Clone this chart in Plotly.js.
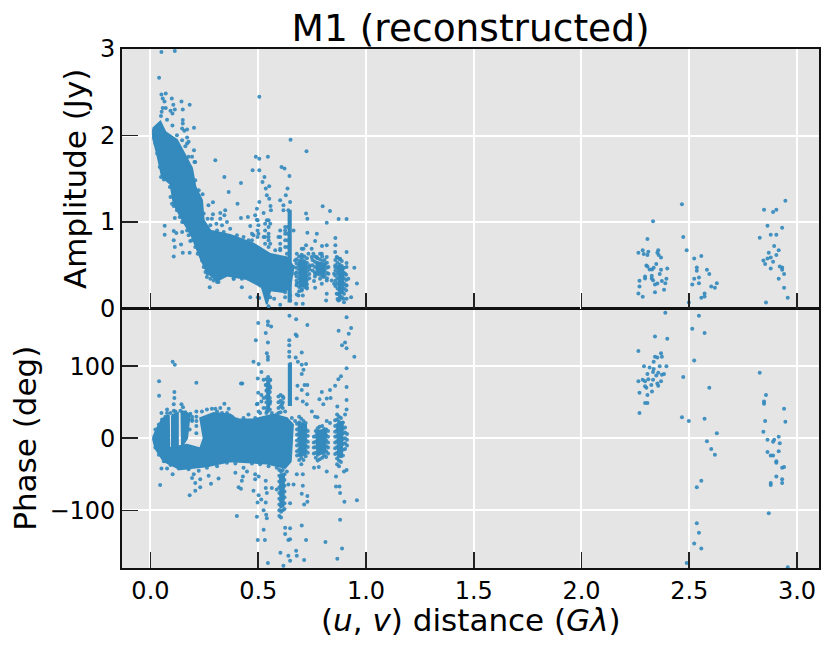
<!DOCTYPE html>
<html>
<head>
<meta charset="utf-8">
<script src="https://cdn.plot.ly/plotly-3.0.1.min.js"></script>
<style>
  html, body { margin: 0; padding: 0; background: #fff; }
  #chart { width: 830px; height: 646px; }
</style>
</head>
<body>
<div id="chart"></div>
<script>
// Solid, fully merged regions of the amplitude panel, outlined from the picture
const ampPatchX = [
  [.012,.046,.069,.093,.123,.162,.193,.208,.239,.247,.278,.370,.478,.556,.633,.664,.648,.617,.556,.540,.517,.448,.355,.309,.262,.231,.193,.154,.108,.093,.054,.031,.012],
  [.641,.651,.651,.641],
  [.690,.722,.726,.694],
  [.770,.810,.806,.774],
  [.870,.895,.892,.876]
];
const ampPatchY = [
  [2.08,2.16,2.04,2.00,1.95,1.77,1.62,1.41,1.25,1.02,.90,.85,.75,.63,.59,.48,.25,.19,.21,.05,.25,.34,.38,.32,.42,.59,.83,1.00,1.21,1.44,1.52,1.79,1.97],
  [1.13,1.13,.08,.08],
  [.55,.53,.27,.25],
  [.54,.51,.40,.42],
  [.50,.47,.19,.16]
];

// Amplitude points of the dense groups past 0.65, read column by column
const ampColumnX = [.678,.690,.702,.714,.726,.737,.752,.763,.774,.786,.797,.808,.819,.858,.868,.878,.888,.898,.908];
const ampColumnY = [
  [.57,.52,.47,.42,.37,.32,.27],
  [.60,.55,.50,.45,.40,.35,.30,.25,.20],
  [.62,.57,.52,.47,.42,.37,.32,.27,.22],
  [.60,.55,.50,.45,.40,.35,.30,.25],
  [.58,.53,.48,.43,.38,.33,.28,.23],
  [.50,.45,.40,.35],
  [.56,.50,.44],
  [.60,.54,.48,.42,.37],
  [.58,.52,.46,.40],
  [.57,.51,.45,.39],
  [.60,.55,.49,.43,.38],
  [.56,.50,.44,.38],
  [.53,.47,.41,.35],
  [.56,.50,.44,.38,.32,.26],
  [.59,.53,.47,.41,.35,.29,.23,.17,.11],
  [.57,.51,.45,.39,.33,.27,.21,.15,.10],
  [.55,.49,.43,.37,.31,.25,.19,.13],
  [.47,.41,.35,.29,.23,.17],
  [.39,.33,.27,.21]
];

// Points along the rough edges of the amplitude regions
const ampEdgeX = [.023,.031,.043,.049,.062,.090,.093,.100,.108,.123,.136,.154,.170,.177,.193,.208,.219,.239,.247,.255,.265,.278,.293,.309,.123,.147,.170,.193,.204,.185,.208,.224,.242,.231,.247,.265,.278,.309,.340,.370,.401,.432,.455,.478,.501,.525,.548,.556,.579,.602,.633,.664,.262,.324,.355,.386,.424,.455,.478,.509,.525,.540,.556,.571,.602,.625,.640,.625,.625,.625,.625,.637,.637,.637,.637,.602,.602,.602,.602,.548,.548,.548,.548,.548,.532,.532,.532,.532,.497,.497,.497,.471,.471,.679,.710,.702,.671,.733,.671,.679,.725,.702,.687,.738,.748,.748,.756,.787,.772,.810,.826,.826,.795,.818,.764,.787,.818,.802,.864,.880,.857,.852,.852,.864,.880,.910,.918,.903,.910,.895,.872,.910];
const ampEdgeY = [1.907,1.792,1.637,1.521,1.490,1.405,1.290,1.212,1.185,1.135,1.058,1.000,.903,.846,.788,.710,.633,.556,.479,.421,.402,.344,.324,.305,2.004,1.946,1.907,1.753,1.695,1.637,1.483,1.367,1.320,1.212,1.097,1.039,.961,.903,.884,.923,.846,.826,.788,.846,.865,.826,.826,.749,.672,.691,.633,.479,.363,.382,.402,.344,.344,.344,.324,.266,.228,.170,.131,.228,.247,.189,.228,.942,.865,.788,.710,.942,.865,.788,.710,.903,.826,.749,.672,1.019,.942,.865,.788,.710,.981,.903,.826,.749,1.019,.903,.826,.865,.788,.633,.691,.595,.556,.633,.402,.286,.247,.208,.151,.479,.595,.691,.633,.633,.595,.517,.479,.402,.633,.595,.402,.344,.324,.363,.595,.575,.479,.402,.286,.170,.131,.266,.344,.402,.479,.112,.093,.112];

// Scattered amplitude points below 1 Gλ
const ampNearX = [.051,.113,.040,.051,.071,.057,.099,.065,.144,.182,.106,.113,.057,.071,.150,.093,.102,.052,.049,.077,.150,.150,.102,.202,.147,.170,.157,.170,.177,.162,.202,.177,.208,.301,.343,.420,.363,.290,.269,.404,.505,.650,.724,.489,.505,.545,.474,.505,.608,.622,.645,.529,.520,.551,.535,.636,.540,.551,.628,.602,.648,.505,.494,.557,.486,.525,.559,.617,.640,.617,.799,.833,.722,.728,.873,.910,.818,.347,.324,.290,.343,.420,.452,.285,.324,.306,.355,.332,.494,.540,.556,.501,.463,.066,.066,.113,.108,.147,.147,.120,.108,.113,.142,.108,.150,.182,.185,.664,.728,.772,.625,.594,.858,.858,.818,.764,.796,.722,.702,.910,.857,.946,.910,.958,.931,.841,.818,.815,.898,.759,.795,.764,.679,.707,.676,.707,.463,.498,.505,.548,.574,.602,.625,.648,.648,.275,.316,.424,.386];
const ampNearY = [2.965,2.977,2.668,2.475,2.486,2.429,2.429,2.394,2.394,2.355,2.355,2.301,2.317,2.317,2.301,2.286,2.255,2.274,2.224,2.181,2.178,2.139,2.116,2.089,2.081,2.069,2.054,1.977,1.927,1.876,1.830,1.753,1.695,1.714,1.521,1.452,1.347,1.228,1.193,1.212,2.448,1.950,1.819,1.753,1.730,1.753,1.598,1.598,1.637,1.618,1.533,1.521,1.463,1.413,1.386,1.386,1.309,1.270,1.309,1.251,1.232,1.232,1.154,1.185,1.077,1.104,1.135,1.193,1.135,1.135,1.181,1.127,1.097,1.039,1.035,1.035,.992,1.135,1.104,1.089,1.077,1.046,1.058,1.039,1.039,.981,1.000,.961,1.027,1.019,.981,.961,.954,.958,.853,1.046,.896,1.000,.884,.873,.788,.710,.741,.602,.645,.645,.780,.903,.876,.865,.903,.826,.815,.730,.730,.780,.722,.730,.691,.653,.653,.471,.525,.290,.131,.324,.170,.093,.073,.317,.286,.239,.162,.151,.054,.054,.131,.131,.120,.027,.112,.042,.131,.093,.151,.247,.305,.247,.344];

// Amplitude points of the long baselines
const ampFarX = [2.466,2.332,2.472,2.306,2.488,2.264,2.284,2.289,2.306,2.310,2.356,2.352,2.358,2.369,2.301,2.306,2.316,2.327,2.335,2.347,2.369,2.398,2.363,2.394,2.295,2.295,2.269,2.269,2.264,2.284,2.326,2.326,2.332,2.341,2.352,2.373,2.389,2.383,2.341,2.523,2.556,2.535,2.535,2.582,2.593,2.545,2.523,2.545,2.514,2.628,2.602,2.619,2.571,2.571,2.556,2.498,2.946,2.904,2.889,2.847,2.863,2.931,2.878,2.904,2.827,2.894,2.915,2.869,2.904,2.878,2.863,2.889,2.844,2.852,2.878,2.920,2.931,2.931,2.940,2.915,2.940,2.957,2.856];
const ampFarY = [1.205,1.01,.826,.803,.672,.645,.672,.629,.618,.656,.672,.645,.618,.591,.498,.486,.452,.452,.471,.514,.448,.463,.398,.344,.371,.347,.320,.255,.174,.135,.378,.347,.328,.278,.290,.317,.293,.216,.189,.579,.606,.475,.436,.448,.398,.359,.344,.293,.278,.293,.255,.239,.174,.139,.124,.069,1.247,1.143,1.116,1.143,.958,.934,.853,.853,.819,.722,.672,.645,.618,.591,.579,.541,.556,.514,.463,.486,.475,.448,.398,.344,.239,.124,.069];

// Solid regions of the phase panel
const phasePatchX = [
  [.011,.031,.054,.085,.088,.062,.023],
  [.100,.127,.127,.100],
  [.144,.182,.170,.151,.147],
  [.085,.170,.231,.247,.231,.293,.370,.401,.478,.571,.633,.661,.651,.625,.540,.478,.370,.262,.139,.062],
  [.642,.652,.652,.642],
  [.542,.552,.550,.544],
  [.601,.620,.617,.604],
  [.688,.722,.718,.692],
  [.770,.815,.810,.775],
  [.866,.893,.888,.871]
];
const phasePatchY = [
  [.5,14,26,32,-30,-32,-14],
  [32,35,-20,-22],
  [38,33,0,-9,-18],
  [-14,-9,-14,0,28,35,33,26,26,33,28,19,-32,-41,-35,-34,-32,-39,-43,-32],
  [104,104,46,46],
  [78,76,40,42],
  [-50,-50,-94,-96],
  [22,19,-22,-24],
  [10,12,-20,-22],
  [20,22,-25,-26]
];

// Phase points of the spikes and dense groups, read column by column
const phaseColumnX = [.538,.546,.554,.594,.604,.614,.598,.606,.614,.622,.680,.690,.700,.710,.720,.730,.758,.767,.776,.785,.797,.806,.815,.824,.857,.866,.875,.884,.893,.903,.912];
const phaseColumnY = [
  [82,74,66,58,50,42,35],
  [85,78,70,62,54,46,38],
  [80,72,64,56,48,40],
  [58,50,42,35],
  [60,52,44,36],
  [58,50,42],
  [-44,-52,-60,-68,-76,-84,-92,-100,-108],
  [-46,-54,-62,-70,-78,-86,-94,-102,-110],
  [-44,-52,-60,-68,-76,-84,-92,-100],
  [-50,-58,-66,-74,-82,-90,-98],
  [20,12,5,-3,-10,-18,-24],
  [30,22,14,7,0,-8,-16,-23,-30],
  [27,18,11,3,-5,-12,-20,-27,-36],
  [24,16,8,1,-7,-15,-22,-30],
  [21,13,5,-2,-10,-17,-25],
  [10,3,-5,-12,-20],
  [2,-6,-13,-21],
  [10,3,-5,-12,-20,-27],
  [14,7,0,-8,-15,-23,-31],
  [16,8,1,-6,-14,-21,-29],
  [17,9,2,-5,-12,-20,-27],
  [13,6,-2,-9,-17,-24],
  [12,4,-3,-11,-18,-26],
  [10,2,-6,-13,-21],
  [25,17,9,2,-6,-14,-22],
  [33,26,18,11,3,-4,-12,-20,-28,-36],
  [30,23,15,8,0,-7,-15,-23,-31,-39],
  [28,21,13,6,-2,-9,-17,-25,-33],
  [22,14,7,-1,-8,-16,-24],
  [15,8,0,-7,-15],
  [6,-2,-10]
];

// Points along the rough edges of the phase regions
const phaseEdgeX = [.023,.039,.054,.069,.093,.116,.139,.162,.185,.193,.182,.162,.023,.039,.062,.093,.131,.177,.224,.262,.309,.355,.394,.432,.471,.509,.548,.586,.633,.239,.262,.285,.309,.332,.355,.378,.401,.432,.455,.486,.509,.540,.563,.586,.610,.617,.625,.656,.671,.515,.525,.502,.494];
const phaseEdgeY = [12,19,26,30,35,37,38,36,34,24,12,7,-13,-23,-32,-37,-42,-43,-45,-41,-39,-34,-35,-41,-35,-36,-39,-41,-46,37,40,41,37,35,35,30,26,28,33,28,35,37,35,33,47,56,37,28,24,51,42,37,47];

// Scattered phase points below 1 Gλ
const phaseNearX = [.103,.113,.040,.040,.213,.420,.426,.111,.111,.108,.108,.051,.077,.077,.144,.151,.343,.301,.324,.363,.213,.213,.213,.213,.213,.193,.193,.045,.051,.077,.103,.182,.208,.231,.193,.208,.231,.201,.270,.316,.281,.401,.409,.420,.424,.429,.394,.448,.478,.502,.497,.494,.486,.486,.502,.535,.535,.540,.514,.535,.525,.537,.540,.525,.498,.531,.545,.563,.586,.625,.648,.625,.640,.648,.603,.640,.648,.617,.676,.679,.713,.722,.702,.812,.889,.867,.880,.900,.958,.880,.877,.861,.861,.910,.898,.818,.781,.759,.713,.728,.728,.702,.707,.664,.640,.648,.679,.707,.500,.545,.545,.560,.535,.489,.545,.540,.545,.478,.502,.545,.515,.498,.525,.535,.556,.500,.515,.540,.556,.525,.497,.540,.556,.645,.676,.728,.674,.679,.644,.644,.644,.644,.702,.674,.684,.702,.722,.710,.702,.682,.715,.728,.702,.728,.679,.707,.725,.749,.764,.775,.818,.833,.795,.784,.802,.818,.836,.833,.857,.872,.884,.910,.910,.867,.910,.903,.910,.946,.910,.873,.931,.920,.903,.889,.910];
const phaseNearY = [106,102,79,59,77,76,76,64,56,47,38,35,40,35,47,43,48,41,42,41,37,30,24,17,7,30,26,-65,-42,-42,-50,-79,-73,-68,-55,-62,-57,-50,-52,-56,-63,-108,-68,-70,-59,-53,-48,-46,-73,-79,-89,-109,-50,-57,-53,-59,-69,-76,-85,-89,-100,-106,-111,-127,-141,-141,-173,-69,-71,-124,-125,-133,-141,-140,-159,-163,-170,-177,-156,-163,-169,-141,-121,-144,-153,-167,-113,-88,-86,-76,-67,-67,-53,-44,-46,-46,-40,-41,-92,-88,-80,-77,-66,-64,-64,-90,-50,-50,160,162,157,155,146,136,133,118,113,106,103,109,92,83,81,74,81,63,60,67,70,56,48,56,51,170,165,157,144,142,136,129,120,113,119,112,106,102,103,95,89,73,74,74,67,61,55,51,47,37,30,29,24,21,64,54,47,55,56,67,73,82,86,71,53,44,40,33,97,113,168,149,153,145,133,129,125];

// Phase points of the long baselines
const phaseFarX = [2.389,2.545,2.514,2.571,2.341,2.398,2.264,2.369,2.341,2.352,2.373,2.523,2.335,2.363,2.290,2.316,2.335,2.394,2.332,2.356,2.306,2.347,2.373,2.383,2.472,2.827,2.264,2.284,2.295,2.310,2.332,2.369,2.352,2.324,2.295,2.301,2.356,2.593,2.269,2.327,2.306,2.856,2.295,2.306,2.847,2.847,2.940,2.269,2.466,2.498,2.571,2.852,2.946,2.628,2.844,2.915,2.863,2.894,2.889,2.920,2.582,2.602,2.619,2.863,2.915,2.878,2.889,2.904,2.904,2.931,2.940,2.904,2.931,2.931,2.878,2.878,2.556,2.535,2.869,2.535,2.545,2.523,2.556,2.488,2.957];
const phaseFarY = [174,170,152,146,141,138,121,118,113,112,113,108,106,100,100,98,96,100,92,91,89,87,88,89,85,91,79,81,79,82,81,79,76,74,72,70,73,70,63,65,60,60,49,49,51,48,41,35,29,24,27,24,23,7,9,2,-2,-2,-5,-7,-4,-15,-23,-19,-18,-24,-24,-32,-34,-41,-40,-53,-57,-62,-62,-65,-59,-68,-104,-118,-131,-146,-153,-173,-179];

const xTicks = [0, 0.5, 1, 1.5, 2, 2.5, 3];
const xTickLabels = ["0.0", "0.5", "1.0", "1.5", "2.0", "2.5", "3.0"];
const ampTicks = [0, 1, 2, 3];
const phaseTicks = [-100, 0, 100];
const phaseTickLabels = ["\u2212100", "0", "100"];

const BLUE = "#348ABD";
const FONT = "DejaVu Sans";

const patchTraces = (xs, ys, xaxis, yaxis) => xs.map((x, i) => ({
  x: [...x, x[0]],
  y: [...ys[i], ys[i][0]],
  xaxis,
  yaxis,
  type: "scatter",
  mode: "lines",
  fill: "toself",
  fillcolor: BLUE,
  line: { color: BLUE, width: 2 },
  hoverinfo: "skip"
}));

const dotTrace = (x, y, xaxis, yaxis) => ({
  x,
  y,
  xaxis,
  yaxis,
  type: "scatter",
  mode: "markers",
  marker: { color: BLUE, size: 4, opacity: 0.92 },
  hoverinfo: "skip"
});

const columnTrace = (xs, ys, xaxis, yaxis) => dotTrace(
  xs.flatMap((x, i) => ys[i].map(() => x)),
  ys.flat(),
  xaxis,
  yaxis
);

const data = [
  ...patchTraces(ampPatchX, ampPatchY, "x2", "y2"),
  columnTrace(ampColumnX, ampColumnY, "x2", "y2"),
  dotTrace(ampEdgeX, ampEdgeY, "x2", "y2"),
  dotTrace(ampNearX, ampNearY, "x2", "y2"),
  dotTrace(ampFarX, ampFarY, "x2", "y2"),
  ...patchTraces(phasePatchX, phasePatchY, "x", "y"),
  columnTrace(phaseColumnX, phaseColumnY, "x", "y"),
  dotTrace(phaseEdgeX, phaseEdgeY, "x", "y"),
  dotTrace(phaseNearX, phaseNearY, "x", "y"),
  dotTrace(phaseFarX, phaseFarY, "x", "y")
];

const axisBase = {
  showline: true,
  mirror: true,
  linecolor: "#111",
  linewidth: 1.8,
  showgrid: true,
  gridcolor: "#fff",
  gridwidth: 2,
  zeroline: false,
  ticks: "inside",
  ticklen: 16,
  tickwidth: 1.6,
  tickcolor: "#222",
  tickfont: { family: FONT, size: 24, color: "#000" }
};

const layout = {
  width: 830,
  height: 646,
  margin: { l: 121.5, r: 11, t: 49, b: 77.5 },
  paper_bgcolor: "#fff",
  plot_bgcolor: "#E5E5E5",
  showlegend: false,
  title: {
    text: "M1 (reconstructed)",
    font: { family: FONT, size: 37.5, color: "#000" },
    x: 0.567,
    xanchor: "center",
    y: 0.957,
    yanchor: "middle"
  },
  // plotly will not put the x title as close to the tick labels as the reference has it
  annotations: [{
    text: "(<i>u</i>, <i>v</i>) distance (<i>G\u03bb</i>)",
    font: { family: FONT, size: 31, color: "#000" },
    xref: "paper",
    yref: "paper",
    x: 0.5,
    y: -0.1,
    xanchor: "center",
    yanchor: "middle",
    showarrow: false
  }],
  xaxis: {
    ...axisBase,
    domain: [0, 1],
    range: [-0.132, 3.102],
    anchor: "y",
    tickmode: "array",
    tickvals: xTicks,
    ticktext: xTickLabels
  },
  yaxis: {
    ...axisBase,
    domain: [0, 0.5],
    range: [-180, 180],
    anchor: "x",
    tickmode: "array",
    tickvals: phaseTicks,
    ticktext: phaseTickLabels,
    title: {
      text: "Phase (deg)",
      font: { family: FONT, size: 31, color: "#000" },
      standoff: 4
    }
  },
  xaxis2: {
    ...axisBase,
    domain: [0, 1],
    range: [-0.132, 3.102],
    anchor: "y2",
    tickmode: "array",
    tickvals: xTicks,
    showticklabels: false
  },
  yaxis2: {
    ...axisBase,
    domain: [0.5, 1],
    range: [0, 3],
    anchor: "x2",
    tickmode: "array",
    tickvals: ampTicks,
    title: {
      text: "Amplitude (Jy)",
      font: { family: FONT, size: 31, color: "#000" },
      standoff: 4
    }
  }
};

Plotly.newPlot("chart", data, layout, { displayModeBar: false, staticPlot: true });
</script>
</body>
</html>
